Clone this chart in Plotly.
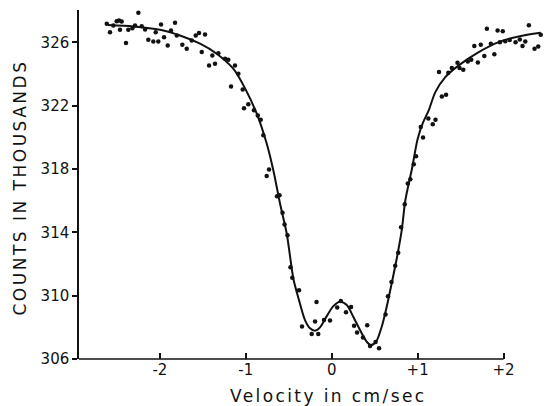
import plotly.graph_objects as go

# Measured points (velocity in cm/sec, counts in thousands)
point_x = [-2.619, -2.581, -2.542, -2.503, -2.476, -2.465, -2.445, -2.395, -2.368, -2.321,
           -2.290, -2.251, -2.212, -2.173, -2.135, -2.077, -2.049, -2.019, -1.987, -1.952,
           -1.909, -1.871, -1.824, -1.804, -1.739, -1.688, -1.630, -1.583, -1.545, -1.513,
           -1.475, -1.428, -1.390, -1.359, -1.320, -1.242, -1.204, -1.172, -1.126, -1.087,
           -1.036, -1.021, -0.971, -0.905, -0.861, -0.827, -0.796, -0.757, -0.730, -0.637,
           -0.608, -0.573, -0.549, -0.515, -0.480, -0.459, -0.381, -0.346, -0.233, -0.194,
           -0.177, -0.157, -0.090, -0.020, 0.064, 0.106, 0.166, 0.225, 0.260, 0.295,
           0.364, 0.413, 0.446, 0.510, 0.551, 0.626, 0.655, 0.696, 0.739, 0.774,
           0.807, 0.850, 0.885, 0.915, 0.955, 0.981, 1.036, 1.063, 1.125, 1.176,
           1.208, 1.249, 1.282, 1.331, 1.357, 1.398, 1.464, 1.488, 1.531, 1.584,
           1.624, 1.660, 1.701, 1.735, 1.776, 1.806, 1.852, 1.893, 1.931, 1.957,
           1.991, 2.020, 2.072, 2.140, 2.189, 2.221, 2.253, 2.295, 2.361, 2.404, 2.433]
point_y = [327.18, 326.65, 327.07, 327.34, 327.39, 326.80, 327.32, 325.96, 326.80, 326.90,
           327.07, 327.87, 327.03, 326.82, 326.17, 326.06, 326.65, 326.06, 327.14, 326.33,
           325.81, 326.76, 327.24, 326.44, 325.85, 325.60, 326.13, 326.44, 326.59, 325.39,
           326.50, 324.55, 325.18, 324.66, 325.32, 324.97, 324.91, 323.22, 324.55, 324.02,
           323.03, 321.84, 322.09, 321.71, 321.39, 321.12, 320.13, 317.56, 317.97, 316.28,
           316.35, 315.24, 314.49, 313.82, 311.80, 311.14, 310.35, 308.05, 307.58, 308.37,
           309.60, 307.58, 308.46, 308.43, 309.25, 309.66, 308.95, 309.28, 308.10, 307.68,
           307.36, 308.13, 306.82, 307.07, 306.68, 308.81, 309.97, 310.86, 311.89, 312.72,
           314.33, 315.78, 317.09, 317.36, 318.30, 318.81, 320.66, 319.99, 321.19, 320.83,
           321.11, 324.13, 322.59, 322.70, 324.08, 324.38, 324.72, 324.38, 324.28, 324.80,
           324.91, 325.77, 324.74, 325.85, 325.15, 326.87, 325.92, 325.26, 326.76, 326.02,
           326.71, 326.08, 326.16, 326.02, 326.18, 325.77, 326.06, 327.08, 325.60, 325.75, 326.49]

# Fitted curve
fit_x = [-2.604, -2.310, -1.999, -1.766, -1.533, -1.339, -1.146, -1.009, -0.873, -0.757,
         -0.680, -0.602, -0.524, -0.447, -0.381, -0.311, -0.253, -0.194, -0.136, -0.058,
         0.019, 0.097, 0.175, 0.251, 0.329, 0.407, 0.454, 0.516, 0.582, 0.640,
         0.698, 0.757, 0.815, 0.857, 0.935, 1.000, 1.060, 1.129, 1.206, 1.322,
         1.478, 1.711, 1.944, 2.177, 2.433]
fit_y = [327.10, 327.01, 326.80, 326.44, 325.92, 325.29, 324.34, 323.10, 321.50, 319.61,
         317.92, 315.82, 313.93, 311.09, 309.72, 308.46, 307.94, 307.79, 308.00, 308.71,
         309.34, 309.62, 309.41, 308.67, 307.83, 307.09, 306.88, 307.09, 308.04, 309.30,
         310.78, 312.35, 314.14, 316.03, 318.05, 319.90, 320.90, 321.71, 322.86, 323.81,
         324.55, 325.39, 326.02, 326.38, 326.61]

x_tickvals = [-2, -1, 0, 1, 2]
x_ticktext = ["-2", "-1", "0", "+1", "+2"]
y_tickvals = [306, 310, 314, 318, 322, 326]

X_MIN, X_MAX = -2.942, 2.471
Y_MIN, Y_MAX = 306, 328.05

ink = "#111111"
font = "DejaVu Sans"

fig = go.Figure()
fig.add_trace(go.Scatter(x=fit_x, y=fit_y, mode="lines",
                         line=dict(color=ink, width=2, shape="spline", smoothing=0.8),
                         hoverinfo="skip"))
fig.add_trace(go.Scatter(x=point_x, y=point_y, mode="markers",
                         marker=dict(color=ink, size=4.5, line=dict(width=0)),
                         cliponaxis=False))

fig.update_layout(
    width=544, height=406,
    margin=dict(l=79, r=0, t=10, b=47),
    paper_bgcolor="white", plot_bgcolor="white",
    showlegend=False,
    font=dict(family=font, color=ink, size=15),
    xaxis=dict(range=[X_MIN, X_MAX], tickvals=x_tickvals, ticktext=x_ticktext,
               ticks="inside", ticklen=6, tickwidth=1.5, tickcolor=ink,
               showline=False, showgrid=False, zeroline=False,
               tickfont=dict(family=font, size=15, color=ink)),
    yaxis=dict(range=[Y_MIN, Y_MAX], tickvals=y_tickvals,
               ticks="outside", ticklen=5, tickwidth=1.5, tickcolor=ink,
               showline=True, linecolor=ink, linewidth=1.5,
               showgrid=False, zeroline=False,
               tickfont=dict(family=font, size=15, color=ink)),
    shapes=[dict(type="line", xref="x", yref="paper", x0=X_MIN, x1=2.0, y0=0, y1=0,
                 line=dict(color=ink, width=1.5))],
    annotations=[
        dict(text='<span style="letter-spacing:2.4px">Velocity in cm/sec</span>',
             xref="paper", yref="paper", x=0.5376, y=0, yanchor="middle",
             yshift=-37, showarrow=False, font=dict(family=font, size=17, color=ink)),
        dict(text='<span style="letter-spacing:2.5px">COUNTS IN THOUSANDS</span>',
             xref="paper", yref="paper", x=0, y=0.5, xanchor="center", yanchor="middle",
             xshift=-60, yshift=-3, textangle=-90, showarrow=False,
             font=dict(family=font, size=17, color=ink)),
    ],
)

fig.write_html("out.html",
               config={"displayModeBar": False},
               post_script="document.body.style.margin='0';document.body.style.overflow='hidden';")
